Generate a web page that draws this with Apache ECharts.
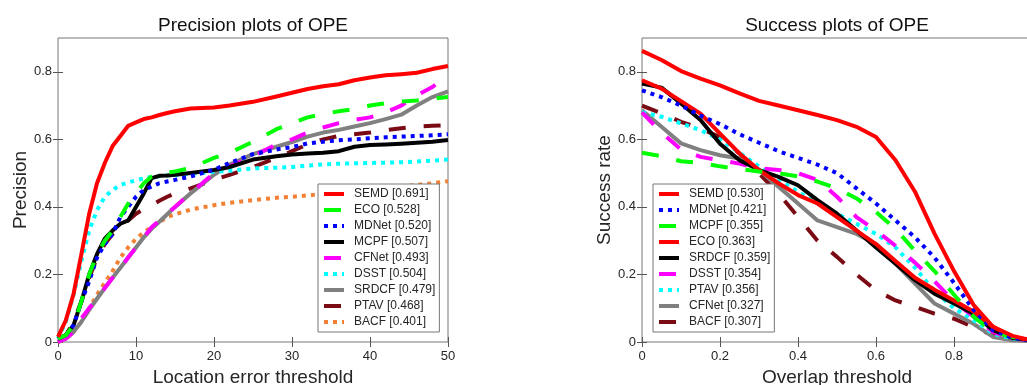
<!DOCTYPE html>
<html>
<head>
<meta charset="utf-8">
<script src="https://cdn.jsdelivr.net/npm/echarts@6/dist/echarts.min.js"></script>
<style>
  html, body { margin: 0; padding: 0; background: #fff; }
  #chart { width: 1027px; height: 385px; }
</style>
</head>
<body>
<div id="chart"></div>
<script>
// precision plot (left)
const precX = [0, 1, 2, 3, 4, 5, 6, 7, 8, 9, 10, 11, 12, 13, 14, 15, 17, 20, 22, 25, 28, 30, 32, 34, 36, 38, 40, 42, 44, 46, 48, 50];
const precNames = ['SEMD', 'ECO', 'MDNet', 'MCPF', 'CFNet', 'DSST', 'SRDCF', 'PTAV', 'BACF'];
const precScores = ['0.691', '0.528', '0.520', '0.507', '0.493', '0.504', '0.479', '0.468', '0.401'];
const precSEMD = [0.015, 0.064, 0.143, 0.26, 0.38, 0.47, 0.53, 0.58, 0.61, 0.64, 0.65, 0.66, 0.665, 0.672, 0.678, 0.683, 0.691, 0.694, 0.70, 0.711, 0.727, 0.738, 0.749, 0.757, 0.763, 0.775, 0.783, 0.79, 0.793, 0.797, 0.808, 0.817];
const precECO = [0.01, 0.02, 0.05, 0.12, 0.2, 0.26, 0.30, 0.33, 0.37, 0.41, 0.44, 0.47, 0.49, 0.50, 0.502, 0.505, 0.515, 0.545, 0.56, 0.593, 0.63, 0.648, 0.665, 0.675, 0.683, 0.69, 0.70, 0.707, 0.712, 0.715, 0.72, 0.725];
const precMDNet = [0.01, 0.02, 0.05, 0.12, 0.18, 0.25, 0.29, 0.32, 0.37, 0.40, 0.43, 0.45, 0.46, 0.47, 0.475, 0.48, 0.49, 0.51, 0.53, 0.556, 0.57, 0.577, 0.588, 0.593, 0.597, 0.60, 0.603, 0.606, 0.608, 0.61, 0.612, 0.615];
const precMCPF = [0.01, 0.02, 0.05, 0.12, 0.2, 0.26, 0.306, 0.33, 0.35, 0.36, 0.40, 0.44, 0.485, 0.492, 0.493, 0.495, 0.50, 0.509, 0.518, 0.54, 0.55, 0.555, 0.558, 0.56, 0.565, 0.578, 0.583, 0.585, 0.587, 0.59, 0.593, 0.598];
const precCFNet = [0.0, 0.01, 0.03, 0.07, 0.10, 0.13, 0.16, 0.19, 0.22, 0.25, 0.28, 0.31, 0.34, 0.36, 0.38, 0.40, 0.44, 0.50, 0.52, 0.55, 0.585, 0.60, 0.62, 0.635, 0.648, 0.658, 0.665, 0.68, 0.70, 0.73, 0.755, 0.79];
const precDSST = [0.01, 0.06, 0.14, 0.24, 0.33, 0.39, 0.43, 0.45, 0.465, 0.472, 0.479, 0.484, 0.489, 0.491, 0.493, 0.494, 0.498, 0.504, 0.507, 0.514, 0.516, 0.518, 0.522, 0.526, 0.528, 0.529, 0.53, 0.531, 0.532, 0.534, 0.537, 0.54];
const precSRDCF = [0.0, 0.01, 0.03, 0.06, 0.095, 0.128, 0.16, 0.19, 0.22, 0.25, 0.28, 0.31, 0.335, 0.356, 0.378, 0.40, 0.44, 0.495, 0.525, 0.556, 0.578, 0.592, 0.608, 0.62, 0.628, 0.638, 0.648, 0.66, 0.673, 0.70, 0.725, 0.742];
const precPTAV = [0.01, 0.02, 0.06, 0.12, 0.19, 0.25, 0.29, 0.32, 0.34, 0.36, 0.38, 0.393, 0.405, 0.418, 0.43, 0.44, 0.455, 0.48, 0.495, 0.518, 0.545, 0.565, 0.585, 0.60, 0.61, 0.615, 0.62, 0.627, 0.633, 0.638, 0.64, 0.642];
const precBACF = [0.0, 0.01, 0.03, 0.06, 0.10, 0.14, 0.175, 0.21, 0.25, 0.28, 0.305, 0.325, 0.34, 0.355, 0.37, 0.378, 0.392, 0.405, 0.412, 0.42, 0.427, 0.43, 0.434, 0.438, 0.442, 0.446, 0.452, 0.456, 0.46, 0.465, 0.47, 0.476];

// success plot (right)
const succX = [0, 0.05, 0.1, 0.15, 0.2, 0.25, 0.3, 0.35, 0.4, 0.45, 0.5, 0.55, 0.6, 0.65, 0.7, 0.75, 0.8, 0.85, 0.9, 0.95, 1.0];
const succNames = ['SEMD', 'MDNet', 'MCPF', 'ECO', 'SRDCF', 'DSST', 'PTAV', 'CFNet', 'BACF'];
const succScores = ['0.530', '0.421', '0.355', '0.363', '0.359', '0.354', '0.356', '0.327', '0.307'];
const succSEMD = [0.862, 0.835, 0.802, 0.78, 0.76, 0.736, 0.714, 0.70, 0.686, 0.672, 0.657, 0.637, 0.607, 0.538, 0.445, 0.321, 0.21, 0.11, 0.045, 0.018, 0.005];
const succMDNet = [0.745, 0.725, 0.70, 0.67, 0.645, 0.615, 0.59, 0.565, 0.545, 0.525, 0.50, 0.455, 0.41, 0.36, 0.31, 0.25, 0.175, 0.095, 0.035, 0.012, 0.005];
const succMCPF = [0.56, 0.55, 0.535, 0.53, 0.52, 0.512, 0.505, 0.50, 0.49, 0.475, 0.455, 0.425, 0.385, 0.335, 0.27, 0.21, 0.14, 0.075, 0.03, 0.015, 0.01];
const succECO = [0.775, 0.75, 0.713, 0.676, 0.617, 0.558, 0.509, 0.47, 0.435, 0.41, 0.37, 0.33, 0.29, 0.24, 0.19, 0.155, 0.123, 0.09, 0.045, 0.015, 0.005];
const succSRDCF = [0.765, 0.753, 0.706, 0.657, 0.587, 0.538, 0.509, 0.489, 0.464, 0.42, 0.38, 0.33, 0.28, 0.232, 0.183, 0.143, 0.114, 0.084, 0.035, 0.012, 0.005];
const succDSST = [0.68, 0.62, 0.57, 0.548, 0.538, 0.528, 0.514, 0.509, 0.50, 0.48, 0.43, 0.37, 0.33, 0.285, 0.235, 0.18, 0.12, 0.075, 0.03, 0.01, 0.005];
const succPTAV = [0.68, 0.667, 0.647, 0.627, 0.60, 0.56, 0.52, 0.48, 0.445, 0.41, 0.38, 0.35, 0.32, 0.28, 0.22, 0.15, 0.10, 0.065, 0.025, 0.01, 0.005];
const succCFNet = [0.686, 0.637, 0.588, 0.568, 0.553, 0.543, 0.51, 0.46, 0.41, 0.36, 0.34, 0.32, 0.29, 0.232, 0.173, 0.114, 0.084, 0.054, 0.015, 0.005, 0.003];
const succBACF = [0.70, 0.677, 0.652, 0.632, 0.607, 0.558, 0.499, 0.44, 0.37, 0.30, 0.252, 0.20, 0.153, 0.123, 0.104, 0.084, 0.069, 0.044, 0.02, 0.008, 0.003];

// tick positions
const precXTicks = [0, 10, 20, 30, 40, 50];
const succXTicks = [0, 0.2, 0.4, 0.6, 0.8, 1];
const yTicks = [0, 0.2, 0.4, 0.6, 0.8];

const FONT = '"Liberation Sans", Arial, sans-serif';

// line looks, matlab-ish
const SOLID = 'solid';
const DASH = [17, 18];
const DOT = [4, 5];

const precStyle = [
  ['#ff0000', SOLID], ['#00ff00', DASH], ['#0000ff', DOT], ['#000000', SOLID], ['#ff00ff', DASH],
  ['#00ffff', DOT], ['#808080', SOLID], ['#7a0a14', DASH], ['#f28035', DOT],
];
const succStyle = [
  ['#ff0000', SOLID], ['#0000ff', DOT], ['#00ff00', DASH], ['#ff0000', SOLID], ['#000000', SOLID],
  ['#ff00ff', DASH], ['#00ffff', DOT], ['#808080', SOLID], ['#7a0a14', DASH],
];

const precData = [precSEMD, precECO, precMDNet, precMCPF, precCFNet, precDSST, precSRDCF, precPTAV, precBACF];
const succData = [succSEMD, succMDNet, succMCPF, succECO, succSRDCF, succDSST, succPTAV, succCFNet, succBACF];

const precLabels = precNames.map((n, i) => `${n} [${precScores[i]}]`);
const succLabels = succNames.map((n, i) => `${n} [${succScores[i]}]`);

function makeSeries(labels, xs, data, styles, axisIdx) {
  // first legend entry on top
  return labels.map((name, i) => ({
    name,
    type: 'line',
    xAxisIndex: axisIdx,
    yAxisIndex: axisIdx,
    data: xs.map((x, k) => [x, data[i][k]]),
    symbol: 'none',
    smooth: false,
    z: 20 - i,
    lineStyle: { color: styles[i][0], width: 4, type: styles[i][1], cap: 'butt', join: 'round' },
    itemStyle: { color: styles[i][0] },
    emphasis: { disabled: true },
  }));
}

const tickLabel = { color: '#262626', fontSize: 13, fontFamily: FONT };
const tickLine = { color: '#555' };

function mainX(grid, max, interval, ticks, name) {
  return {
    gridIndex: grid, type: 'value', min: 0, max, interval, position: 'bottom',
    name, nameLocation: 'middle', nameGap: 25,
    nameTextStyle: { color: '#262626', fontSize: 19, fontFamily: FONT },
    axisLine: { show: false },
    axisTick: { inside: true, length: 5, lineStyle: tickLine, customValues: ticks },
    axisLabel: Object.assign({ margin: 8, customValues: ticks, formatter: (v) => String(v) }, tickLabel),
    splitLine: { show: false },
  };
}
function mainY(grid, name, gap) {
  return {
    gridIndex: grid, type: 'value', min: 0, max: 0.9, interval: 0.2, position: 'left',
    name, nameLocation: 'middle', nameGap: gap,
    nameTextStyle: { color: '#262626', fontSize: 19, fontFamily: FONT },
    axisLine: { show: false },
    axisTick: { inside: true, length: 5, lineStyle: tickLine, customValues: yTicks },
    axisLabel: Object.assign({ margin: 6, customValues: yTicks, formatter: (v) => String(v) }, tickLabel),
    splitLine: { show: false },
  };
}
function sideAxis(grid, pos, max, interval, ticks) {
  return {
    gridIndex: grid, type: 'value', min: 0, max, interval, position: pos,
    axisLine: { show: false },
    axisTick: { inside: true, length: 5, lineStyle: tickLine, customValues: ticks },
    axisLabel: { show: false },
    splitLine: { show: false },
  };
}

function makeLegend(labels, left) {
  return {
    orient: 'vertical',
    left, top: 184,
    z: 50,
    padding: [3, 4, 3, 4],
    itemWidth: 20,
    itemHeight: 10,
    itemGap: 2,
    // hide the marker dot, keep the line sample
    itemStyle: { opacity: 0 },
    lineStyle: { width: 4 },
    backgroundColor: '#fff',
    borderColor: '#777',
    borderWidth: 1,
    borderRadius: 0,
    selectedMode: false,
    data: labels,
    textStyle: { color: '#262626', fontSize: 12, fontFamily: FONT, lineHeight: 14, padding: [0, 0, 0, 5] },
  };
}

const chart = echarts.init(document.getElementById('chart'), null, { renderer: 'canvas' });

chart.setOption({
  backgroundColor: '#fff',
  animation: false,
  title: [
    { text: 'Precision plots of OPE', left: 248, top: 11, textAlign: 'center',
      textStyle: { color: '#111', fontSize: 19, fontWeight: 'normal', fontFamily: FONT } },
    { text: 'Success plots of OPE', left: 832, top: 11, textAlign: 'center',
      textStyle: { color: '#111', fontSize: 19, fontWeight: 'normal', fontFamily: FONT } },
  ],
  grid: [
    { left: 58, right: 579, top: 38, bottom: 43, show: true, borderColor: '#777', borderWidth: 1,
      backgroundColor: 'transparent', outerBoundsMode: 'none' },
    { left: 642, right: -5, top: 38, bottom: 43, show: true, borderColor: '#777', borderWidth: 1,
      backgroundColor: 'transparent', outerBoundsMode: 'none' },
  ],
  legend: [makeLegend(precLabels, 318), makeLegend(succLabels, 653)],
  xAxis: [
    mainX(0, 50, 10, precXTicks, 'Location error threshold'),
    sideAxis(0, 'top', 50, 10, precXTicks),
    mainX(1, 1, 0.2, succXTicks, 'Overlap threshold'),
    sideAxis(1, 'top', 1, 0.2, succXTicks),
  ],
  yAxis: [
    mainY(0, 'Precision', 27),
    sideAxis(0, 'right', 0.9, 0.2, yTicks),
    mainY(1, 'Success rate', 27),
    sideAxis(1, 'right', 0.9, 0.2, yTicks),
  ],
  series: [
    ...makeSeries(precLabels, precX, precData, precStyle, 0),
    ...makeSeries(succLabels, succX, succData, succStyle, 2),
  ],
});
</script>
</body>
</html>
